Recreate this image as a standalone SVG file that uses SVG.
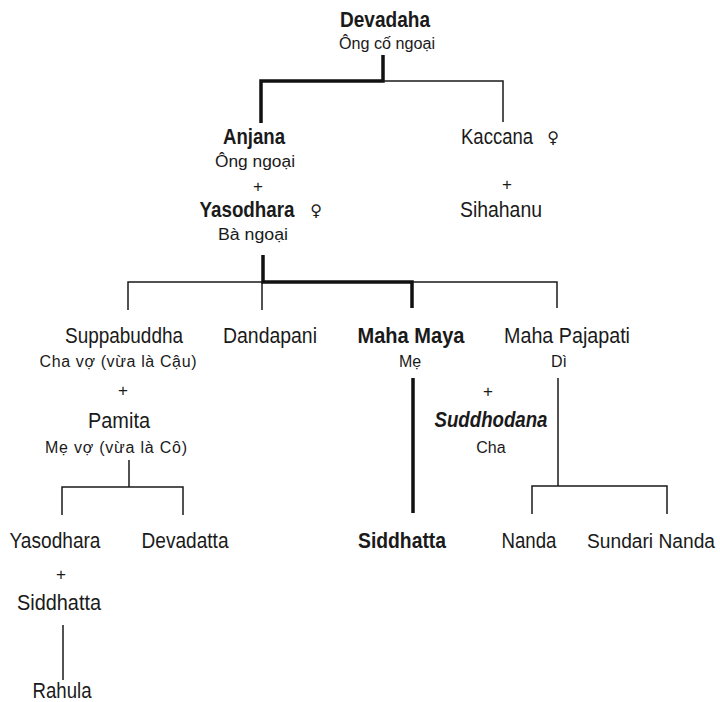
<svg xmlns="http://www.w3.org/2000/svg" width="720" height="702" viewBox="0 0 720 702">
<style>
text{font-family:"Liberation Sans",Arial,sans-serif;fill:#1a1a1a;text-anchor:middle}
.n{font-size:22px}
.b{font-size:22px;font-weight:bold}
.bi{font-size:22px;font-weight:bold;font-style:italic}
.s{font-size:16px}
.p{font-size:17px}
.sym{font-family:"DejaVu Sans",sans-serif;font-weight:normal;font-size:16px}
.thin{fill:none;stroke:#1a1a1a;stroke-width:1.5}
.thick{fill:none;stroke:#111;stroke-width:3.5}
</style>
<rect width="720" height="702" fill="#fff"/>
<g id="connectors">
<path class="thick" d="M383,55 V81 H261 V123"/>
<path class="thin" d="M383,81 H503 V122"/>
<path class="thin" d="M128,310 V282 H263 M262,282 V310 M412,282 H557 V308"/>
<path class="thick" d="M263,255 V282 H412 V308"/>
<path class="thick" d="M413,378 V513"/>
<path class="thin" d="M558,378 V486 M532,514 V486 H667 V514"/>
<path class="thin" d="M129,460 V487 M62,515 V487 H183 V515"/>
<path class="thin" d="M63,625 V680"/>
</g>
<g id="devadaha">
<text class="b" x="385" y="27" textLength="90" lengthAdjust="spacingAndGlyphs">Devadaha</text>
<text class="s" x="387" y="49" textLength="96" lengthAdjust="spacingAndGlyphs">Ông cố ngoại</text>
</g>
<g id="anjana">
<text class="b" x="254" y="144" textLength="62" lengthAdjust="spacingAndGlyphs">Anjana</text>
<text class="s" x="255" y="167" textLength="80" lengthAdjust="spacingAndGlyphs">Ông ngoại</text>
<text class="p" x="258" y="192">+</text>
</g>
<g id="yasodhara-ba">
<text class="b" x="247" y="217" textLength="95" lengthAdjust="spacingAndGlyphs">Yasodhara</text>
<text class="sym" x="316" y="216">♀</text>
<text class="s" x="253" y="240" textLength="70" lengthAdjust="spacingAndGlyphs">Bà ngoại</text>
</g>
<g id="kaccana">
<text class="n" x="497" y="144" textLength="72" lengthAdjust="spacingAndGlyphs">Kaccana</text>
<text class="sym" x="553" y="143">♀</text>
<text class="p" x="507" y="190">+</text>
</g>
<g id="sihahanu">
<text class="n" x="501" y="217" textLength="82" lengthAdjust="spacingAndGlyphs">Sihahanu</text>
</g>
<g id="suppabuddha">
<text class="n" x="124" y="343" textLength="118" lengthAdjust="spacingAndGlyphs">Suppabuddha</text>
<text class="s" x="118" y="367" textLength="157">Cha vợ (vừa là Cậu)</text>
<text class="p" x="123" y="396">+</text>
</g>
<g id="pamita">
<text class="n" x="119" y="428" textLength="62" lengthAdjust="spacingAndGlyphs">Pamita</text>
<text class="s" x="116" y="453" textLength="142">Mẹ vợ (vừa là Cô)</text>
</g>
<g id="dandapani">
<text class="n" x="270" y="343" textLength="94" lengthAdjust="spacingAndGlyphs">Dandapani</text>
</g>
<g id="mahamaya">
<text class="b" x="411" y="343" textLength="107" lengthAdjust="spacingAndGlyphs">Maha Maya</text>
<text class="s" x="410" y="367">Mẹ</text>
</g>
<g id="mahapajapati">
<text class="n" x="567" y="343" textLength="126" lengthAdjust="spacingAndGlyphs">Maha Pajapati</text>
<text class="s" x="559" y="367">Dì</text>
<text class="p" x="488" y="397">+</text>
</g>
<g id="suddhodana">
<text class="bi" x="491" y="427" textLength="113" lengthAdjust="spacingAndGlyphs">Suddhodana</text>
<text class="s" x="491" y="453">Cha</text>
</g>
<g id="yasodhara">
<text class="n" x="55" y="548" textLength="91" lengthAdjust="spacingAndGlyphs">Yasodhara</text>
<text class="p" x="61" y="580">+</text>
</g>
<g id="siddhatta-left">
<text class="n" x="59" y="610" textLength="84" lengthAdjust="spacingAndGlyphs">Siddhatta</text>
</g>
<g id="devadatta">
<text class="n" x="185" y="548" textLength="87" lengthAdjust="spacingAndGlyphs">Devadatta</text>
</g>
<g id="rahula">
<text class="n" x="62" y="698" textLength="59" lengthAdjust="spacingAndGlyphs">Rahula</text>
</g>
<g id="siddhatta">
<text class="b" x="402" y="548" textLength="88" lengthAdjust="spacingAndGlyphs">Siddhatta</text>
</g>
<g id="nanda">
<text class="n" x="529" y="548" textLength="55" lengthAdjust="spacingAndGlyphs">Nanda</text>
</g>
<g id="sundarinanda">
<text class="n" x="651" y="548" style="font-size:20px" textLength="128" lengthAdjust="spacingAndGlyphs">Sundari Nanda</text>
</g>
</svg>
